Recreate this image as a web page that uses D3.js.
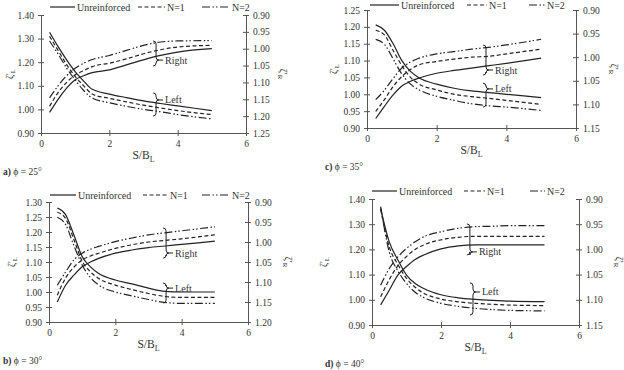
<!DOCTYPE html>
<html>
<head>
<meta charset="utf-8">
<script src="https://cdn.jsdelivr.net/npm/d3@7"></script>
<style>
  body { margin: 0; background: #fff; }
  svg text { font-family: "Liberation Serif", "Times New Roman", serif; fill: #333; }
</style>
</head>
<body>
<script>
// S/B_L positions where each curve was read
const sbl = [0.25, 0.5, 0.75, 1, 1.25, 1.5, 2, 2.5, 3, 3.5, 4, 5]
const seriesNames = ["Unreinforced", "N=1", "N=2"]
const xTicks = [0, 2, 4, 6]

// phi = 25 deg : [Unreinforced, N=1, N=2]
const phi25Left = [
  [1.327, 1.266, 1.21, 1.16, 1.12, 1.085, 1.065, 1.05, 1.036, 1.025, 1.015, 0.995],
  [1.31, 1.25, 1.19, 1.14, 1.10, 1.065, 1.047, 1.032, 1.018, 1.006, 0.995, 0.978],
  [1.29, 1.235, 1.175, 1.125, 1.08, 1.048, 1.028, 1.013, 1.0, 0.99, 0.978, 0.96]
]
const phi25Right = [
  [1.189, 1.15, 1.117, 1.092, 1.08, 1.071, 1.063, 1.048, 1.033, 1.02, 1.01, 1.0],
  [1.171, 1.13, 1.10, 1.078, 1.065, 1.053, 1.043, 1.03, 1.015, 1.003, 0.995, 0.99],
  [1.146, 1.11, 1.08, 1.058, 1.043, 1.032, 1.02, 1.005, 0.99, 0.98, 0.977, 0.976]
]
// phi = 30 deg
const phi30Left = [
  [1.28, 1.258, 1.19, 1.118, 1.084, 1.062, 1.04, 1.027, 1.013, 1.002, 1.0, 1.0],
  [1.266, 1.245, 1.175, 1.103, 1.067, 1.045, 1.023, 1.008, 0.995, 0.985, 0.982, 0.982],
  [1.249, 1.225, 1.155, 1.09, 1.048, 1.023, 1.0, 0.987, 0.975, 0.965, 0.962, 0.962]
]
const phi30Right = [
  [1.15, 1.108, 1.083, 1.062, 1.05, 1.041, 1.028, 1.02, 1.014, 1.01, 1.006, 0.998],
  [1.133, 1.09, 1.063, 1.045, 1.035, 1.028, 1.016, 1.007, 1.0, 0.996, 0.992, 0.982],
  [1.108, 1.075, 1.045, 1.028, 1.018, 1.011, 0.999, 0.99, 0.982, 0.977, 0.972, 0.962]
]
// phi = 35 deg
const phi35Left = [
  [1.206, 1.19, 1.15, 1.10, 1.068, 1.048, 1.03, 1.018, 1.01, 1.005, 1.0, 0.99],
  [1.19, 1.176, 1.13, 1.085, 1.05, 1.03, 1.013, 1.0, 0.993, 0.988, 0.982, 0.97],
  [1.163, 1.148, 1.105, 1.06, 1.03, 1.013, 0.994, 0.982, 0.972, 0.966, 0.962, 0.952]
]
const phi35Right = [
  [1.13, 1.104, 1.08, 1.061, 1.051, 1.044, 1.034, 1.028, 1.023, 1.018, 1.013, 1.002],
  [1.115, 1.09, 1.062, 1.041, 1.026, 1.016, 1.009, 1.004, 1.0, 0.998, 0.993, 0.983],
  [1.09, 1.07, 1.045, 1.023, 1.01, 1.002, 0.993, 0.988, 0.983, 0.979, 0.974, 0.962]
]
// phi = 40 deg
const phi40Left = [
  [1.363, 1.23, 1.158, 1.098, 1.065, 1.045, 1.02, 1.008, 1.002, 0.998, 0.995, 0.993],
  [1.36, 1.21, 1.14, 1.085, 1.05, 1.026, 1.003, 0.992, 0.986, 0.982, 0.979, 0.977],
  [1.37, 1.19, 1.115, 1.065, 1.03, 1.009, 0.986, 0.974, 0.966, 0.961, 0.958, 0.956]
]
const phi40Right = [
  [1.11, 1.081, 1.051, 1.034, 1.02, 1.011, 0.999, 0.993, 0.991, 0.991, 0.991, 0.991],
  [1.094, 1.06, 1.032, 1.014, 1.0, 0.991, 0.981, 0.976, 0.974, 0.974, 0.974, 0.974],
  [1.071, 1.038, 1.015, 0.998, 0.985, 0.975, 0.965, 0.958, 0.955, 0.954, 0.953, 0.953]
]

// axis ticks
const ticks25L = [0.9, 1.0, 1.1, 1.2, 1.3, 1.4]
const ticks25R = [0.9, 0.95, 1.0, 1.05, 1.1, 1.15, 1.2, 1.25]
const ticks30L = [0.9, 0.95, 1.0, 1.05, 1.1, 1.15, 1.2, 1.25, 1.3]
const ticks30R = [0.9, 0.95, 1.0, 1.05, 1.1, 1.15, 1.2]
const ticks35L = [0.9, 0.95, 1.0, 1.05, 1.1, 1.15, 1.2, 1.25]
const ticks35R = [0.9, 0.95, 1.0, 1.05, 1.1, 1.15]
const ticks40L = [0.9, 1.0, 1.1, 1.2, 1.3, 1.4]
const ticks40R = [0.9, 0.95, 1.0, 1.05, 1.1, 1.15]

// group braces: [label, x, top, bottom, tip] in left-axis units
const braces25 = [["Right", 3.28, 1.29, 1.184, 1.209], ["Left", 3.28, 1.07, 0.972, 1.04]]
const braces30 = [["Right", 3.44, 1.213, 1.113, 1.13], ["Left", 3.44, 1.03, 0.963, 1.013]]
const braces35 = [["Right", 3.33, 1.146, 1.057, 1.072], ["Left", 3.33, 1.033, 0.962, 1.016]]
const braces40 = [["Right", 2.75, 1.301, 1.178, 1.19], ["Left", 2.84, 1.067, 0.94, 1.031]]

const panels = [
  { tag: "a)", phi: "25", left: phi25Left, right: phi25Right, tl: ticks25L, tr: ticks25R, braces: braces25,
    box: {x0: 41, x1: 246, y0: 15, y1: 133}, titleL: 9, titleR: 283, cap: 3,
    legend: {x: 50, y: 7, starts: [0, 88, 152], lens: [25, 27, 28]} },
  { tag: "b)", phi: "30", left: phi30Left, right: phi30Right, tl: ticks30L, tr: ticks30R, braces: braces30,
    box: {x0: 49, x1: 248, y0: 202, y1: 322}, titleL: 11, titleR: 288, cap: 3,
    legend: {x: 50, y: 195, starts: [0, 93, 152], lens: [26, 25, 28]} },
  { tag: "c)", phi: "35", left: phi35Left, right: phi35Right, tl: ticks35L, tr: ticks35R, braces: braces35,
    box: {x0: 367, x1: 576, y0: 10, y1: 128}, titleL: 333, titleR: 614, cap: 325,
    legend: {x: 370, y: 5, starts: [0, 97, 159], lens: [29, 20, 16]} },
  { tag: "d)", phi: "40", left: phi40Left, right: phi40Right, tl: ticks40L, tr: ticks40R, braces: braces40,
    box: {x0: 372, x1: 579, y0: 199, y1: 325}, titleL: 323, titleR: 619, cap: 325,
    legend: {x: 372, y: 191, starts: [0, 92, 158], lens: [25, 21, 15]} }
]

const DASH = [null, "4,2.5", "8,2.5,1.5,2,1.5,2.5"]
const INK = "#222"
const AXIS = "#555"

const svg = d3.select("body").append("svg")
  .attr("width", 624).attr("height", 370)

panels.forEach(drawPanel)

function drawPanel(p) {
  const b = p.box
  const g = svg.append("g")
  const x = d3.scaleLinear().domain([0, 6]).range([b.x0, b.x1])
  const yL = d3.scaleLinear().domain([d3.min(p.tl), d3.max(p.tl)]).range([b.y1, b.y0])
  const yR = d3.scaleLinear().domain([d3.min(p.tr), d3.max(p.tr)]).range([b.y0, b.y1])
  const fmt = d3.format(".2f")

  // axes
  const gx = g.append("g").attr("transform", `translate(0,${b.y1})`).style("color", AXIS)
    .call(d3.axisBottom(x).tickValues(xTicks).tickFormat(d3.format("d"))
      .tickSizeInner(3).tickSizeOuter(0).tickPadding(4))
  gx.selectAll(".tick line").attr("y1", -3)

  const gl = g.append("g").attr("transform", `translate(${b.x0},0)`).style("color", AXIS)
    .call(d3.axisLeft(yL).tickValues(p.tl).tickFormat(fmt)
      .tickSizeInner(3).tickSizeOuter(0).tickPadding(4))
  gl.selectAll(".tick line").attr("x1", 3)

  const gr = g.append("g").attr("transform", `translate(${b.x1},0)`).style("color", AXIS)
    .call(d3.axisRight(yR).tickValues(p.tr).tickFormat(fmt)
      .tickSizeInner(3).tickSizeOuter(0).tickPadding(4))
  gr.selectAll(".tick line").attr("x1", -3)

  g.selectAll(".tick text").attr("font-size", 9.5)

  // curves
  const lineL = d3.line().x((d, i) => x(sbl[i])).y(d => yL(d)).curve(d3.curveMonotoneX)
  const lineR = d3.line().x((d, i) => x(sbl[i])).y(d => yR(d)).curve(d3.curveMonotoneX)
  const series = p.left.map((v, i) => ({v, i, line: lineL}))
    .concat(p.right.map((v, i) => ({v, i, line: lineR})))
  g.selectAll("path.curve").data(series).join("path")
    .attr("class", "curve")
    .attr("d", d => d.line(d.v))
    .attr("fill", "none")
    .attr("stroke", INK)
    .attr("stroke-width", 1.2)
    .attr("stroke-dasharray", d => DASH[d.i])

  // braces with labels
  p.braces.forEach(([label, bx, top, bot, tip]) => {
    const x0 = x(bx), yt = yL(top), yb = yL(bot), yp = yL(tip), w = 3
    g.append("path")
      .attr("d", `M${x0},${yt} Q${x0 + w},${yt} ${x0 + w},${yt + w} L${x0 + w},${yp - w}
        Q${x0 + w},${yp} ${x0 + 2 * w},${yp} Q${x0 + w},${yp} ${x0 + w},${yp + w}
        L${x0 + w},${yb - w} Q${x0 + w},${yb} ${x0},${yb} M${x0 + 2 * w},${yp} h4`)
      .attr("fill", "none").attr("stroke", INK).attr("stroke-width", 1)
    g.append("text").attr("x", x0 + 2 * w + 6).attr("y", yp).attr("dy", "0.35em")
      .attr("font-size", 10).text(label)
  })

  // legend
  const lg = g.append("g").attr("transform", `translate(${p.legend.x},${p.legend.y})`)
  seriesNames.forEach((name, i) => {
    const sx = p.legend.starts[i], len = p.legend.lens[i]
    lg.append("line").attr("x1", sx).attr("x2", sx + len).attr("y1", 0).attr("y2", 0)
      .attr("stroke", INK).attr("stroke-width", 1.2).attr("stroke-dasharray", DASH[i])
    lg.append("text").attr("x", sx + len + 2).attr("y", 0).attr("dy", "0.35em")
      .attr("font-size", 10).text(name)
  })

  // axis titles
  const xt = g.append("text").attr("x", (b.x0 + b.x1) / 2).attr("y", b.y1 + 26)
    .attr("text-anchor", "middle").attr("font-size", 11.5)
  xt.append("tspan").text("S/B")
  xt.append("tspan").attr("font-size", 8).attr("dy", 3).text("L")

  const ymid = (b.y0 + b.y1) / 2
  const lt = g.append("text").attr("transform", `translate(${p.titleL},${ymid}) rotate(-90)`)
    .attr("text-anchor", "middle").attr("dy", "0.35em").attr("font-size", 10)
  lt.append("tspan").text("ζ'")
  lt.append("tspan").attr("font-size", 7).attr("dy", 2).text("L")

  const rt = g.append("text").attr("transform", `translate(${p.titleR},${ymid}) rotate(90)`)
    .attr("text-anchor", "middle").attr("dy", "0.35em").attr("font-size", 10)
  rt.append("tspan").text("ζ'")
  rt.append("tspan").attr("font-size", 7).attr("dy", 2).text("R")

  // caption
  const cp = g.append("text").attr("x", p.cap).attr("y", b.y1 + 39).attr("dy", "0.35em")
    .attr("font-size", 9.5)
  cp.append("tspan").attr("font-weight", "bold").text(p.tag + " ")
  cp.append("tspan").text(`ϕ = ${p.phi}°`)
}
</script>
</body>
</html>
